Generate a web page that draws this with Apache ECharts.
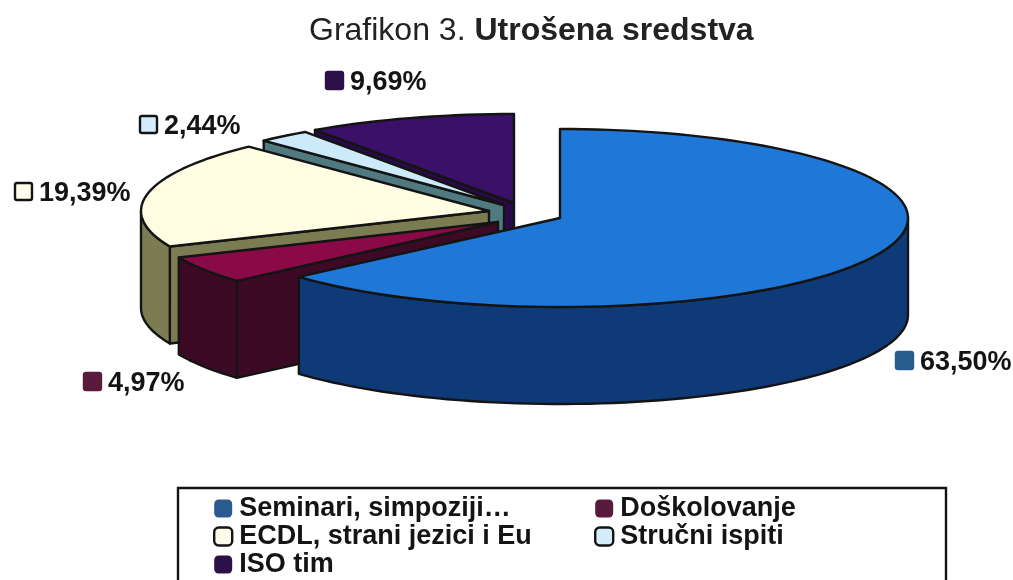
<!DOCTYPE html>
<html>
<head>
<meta charset="utf-8">
<style>html,body{margin:0;padding:0;background:#fff}#c{width:1013px;height:580px}</style>
<script src="https://cdn.jsdelivr.net/npm/echarts@6/dist/echarts.min.js"></script>
</head>
<body>
<div id="c"></div>
<script>
// Data
var categories = ['Seminari, simpoziji…', 'Doškolovanje', 'ECDL, strani jezici i Eu', 'Stručni ispiti', 'ISO tim'];
var shares = [63.50, 4.97, 19.39, 2.44, 9.69];
// Colours
var topColors = ['#1f78d8', '#8a0a48', '#fffde2', '#cdeafb', '#3a1068'];
var wallColors = ['#0f3a78', '#3c0a24', '#7c7c52', '#4e7a80', '#2a0a4c'];
var markerColors = ['#2a5b8e', '#5a1a3c', '#fffdea', '#d4ecfb', '#2c1048'];
var outlined = [false, false, true, true, false];
// Layout
var sliceCentres = [[560, 218], [498, 222], [489, 211], [504, 205], [514, 203]];
var labelAnchors = [[895, 361], [83, 382], [14, 192], [139, 125], [325, 81]];
var rx = 348, ry = 89, depth = 97;
var ink = '#141414';
var font = '"Liberation Sans", Arial, sans-serif';

var total = shares.reduce(function (a, b) { return a + b; }, 0);
var starts = [];
shares.reduce(function (acc, v, i) { starts[i] = acc; return acc + v; }, 0);

function pt(c, deg, drop) {
  var r = deg * Math.PI / 180;
  return [c[0] + rx * Math.sin(r), c[1] - ry * Math.cos(r) + (drop || 0)];
}
function arc(c, a0, a1, drop) {
  var n = Math.max(2, Math.ceil(Math.abs(a1 - a0) / 2)), out = [];
  for (var i = 0; i <= n; i++) out.push(pt(c, a0 + (a1 - a0) * i / n, drop));
  return out;
}
function poly(points, fill) {
  return { type: 'polygon', shape: { points: points },
    style: { fill: fill, stroke: ink, lineWidth: 2.4, lineJoin: 'round' }, silent: true };
}
function cutWall(c, a, fill) {
  var p = pt(c, a);
  return poly([[c[0], c[1]], p, [p[0], p[1] + depth], [c[0], c[1] + depth]], fill);
}

function renderSlice(i) {
  return function (params, api) {
    var value = api.value(0);
    var a0 = starts[i] / total * 360;
    var a1 = a0 + value / total * 360;
    var c = sliceCentres[i];
    var kids = [];
    var s0 = Math.sin(a0 * Math.PI / 180), s1 = Math.sin(a1 * Math.PI / 180);
    if (s0 < -1e-6) kids.push(cutWall(c, a0, wallColors[i]));
    if (s1 > 1e-6) kids.push(cutWall(c, a1, wallColors[i]));
    var w0 = Math.max(a0, 90), w1 = Math.min(a1, 270);
    if (w1 > w0) {
      kids.push(poly(arc(c, w0, w1, 0).concat(arc(c, w1, w0, depth)), wallColors[i]));
    }
    kids.push(poly([[c[0], c[1]]].concat(arc(c, a0, a1, 0)), topColors[i]));
    var la = labelAnchors[i];
    kids.push({ type: 'rect', shape: { x: la[0] + 1, y: la[1] - 9, width: 17, height: 17, r: 2 },
      style: { fill: markerColors[i], stroke: outlined[i] ? ink : markerColors[i], lineWidth: 2.4 }, silent: true });
    kids.push({ type: 'text', x: la[0] + 25, y: la[1] + 2,
      style: { text: value.toFixed(2).replace('.', ',') + '%', fill: ink, font: 'bold 27px ' + font,
        verticalAlign: 'middle', align: 'left' }, silent: true });
    return { type: 'group', children: kids };
  };
}

var series = categories.map(function (name, i) {
  return { type: 'custom', name: name, coordinateSystem: 'none', z: 10 - i,
    data: [[shares[i]]], renderItem: renderSlice(i), animation: false,
    itemStyle: { color: markerColors[i] } };
});

function legendData(idx) {
  return idx.map(function (i) {
    return { name: categories[i], icon: 'roundRect',
      itemStyle: { color: markerColors[i], borderColor: outlined[i] ? ink : markerColors[i], borderWidth: outlined[i] ? 2.4 : 0 } };
  });
}
function legendAt(left, idx) {
  return { orient: 'vertical', left: left, top: 495, height: 100, padding: 0, itemWidth: 18, itemHeight: 18, itemGap: 1,
    selectedMode: false, data: legendData(idx),
    textStyle: { fontFamily: font, fontWeight: 'bold', fontSize: 27, color: ink, padding: [0, 0, 0, 2], lineHeight: 24 } };
}

echarts.init(document.getElementById('c'), null, { renderer: 'canvas' }).setOption({
  backgroundColor: '#ffffff',
  animation: false,
  title: {
    text: '{n|Grafikon 3. }{b|Utrošena sredstva}', left: 304, top: 10,
    textStyle: { rich: {
      n: { fontFamily: font, fontSize: 32, fontWeight: 'normal', color: '#222' },
      b: { fontFamily: font, fontSize: 32, fontWeight: 'bold', color: '#222' }
    } }
  },
  legend: [legendAt(213, [0, 2, 4]), legendAt(594, [1, 3])],
  graphic: [{ type: 'rect', z: -1, shape: { x: 178, y: 488, width: 768, height: 120 },
    style: { fill: '#fff', stroke: ink, lineWidth: 2.4 }, silent: true }],
  series: series
});
</script>
</body>
</html>
